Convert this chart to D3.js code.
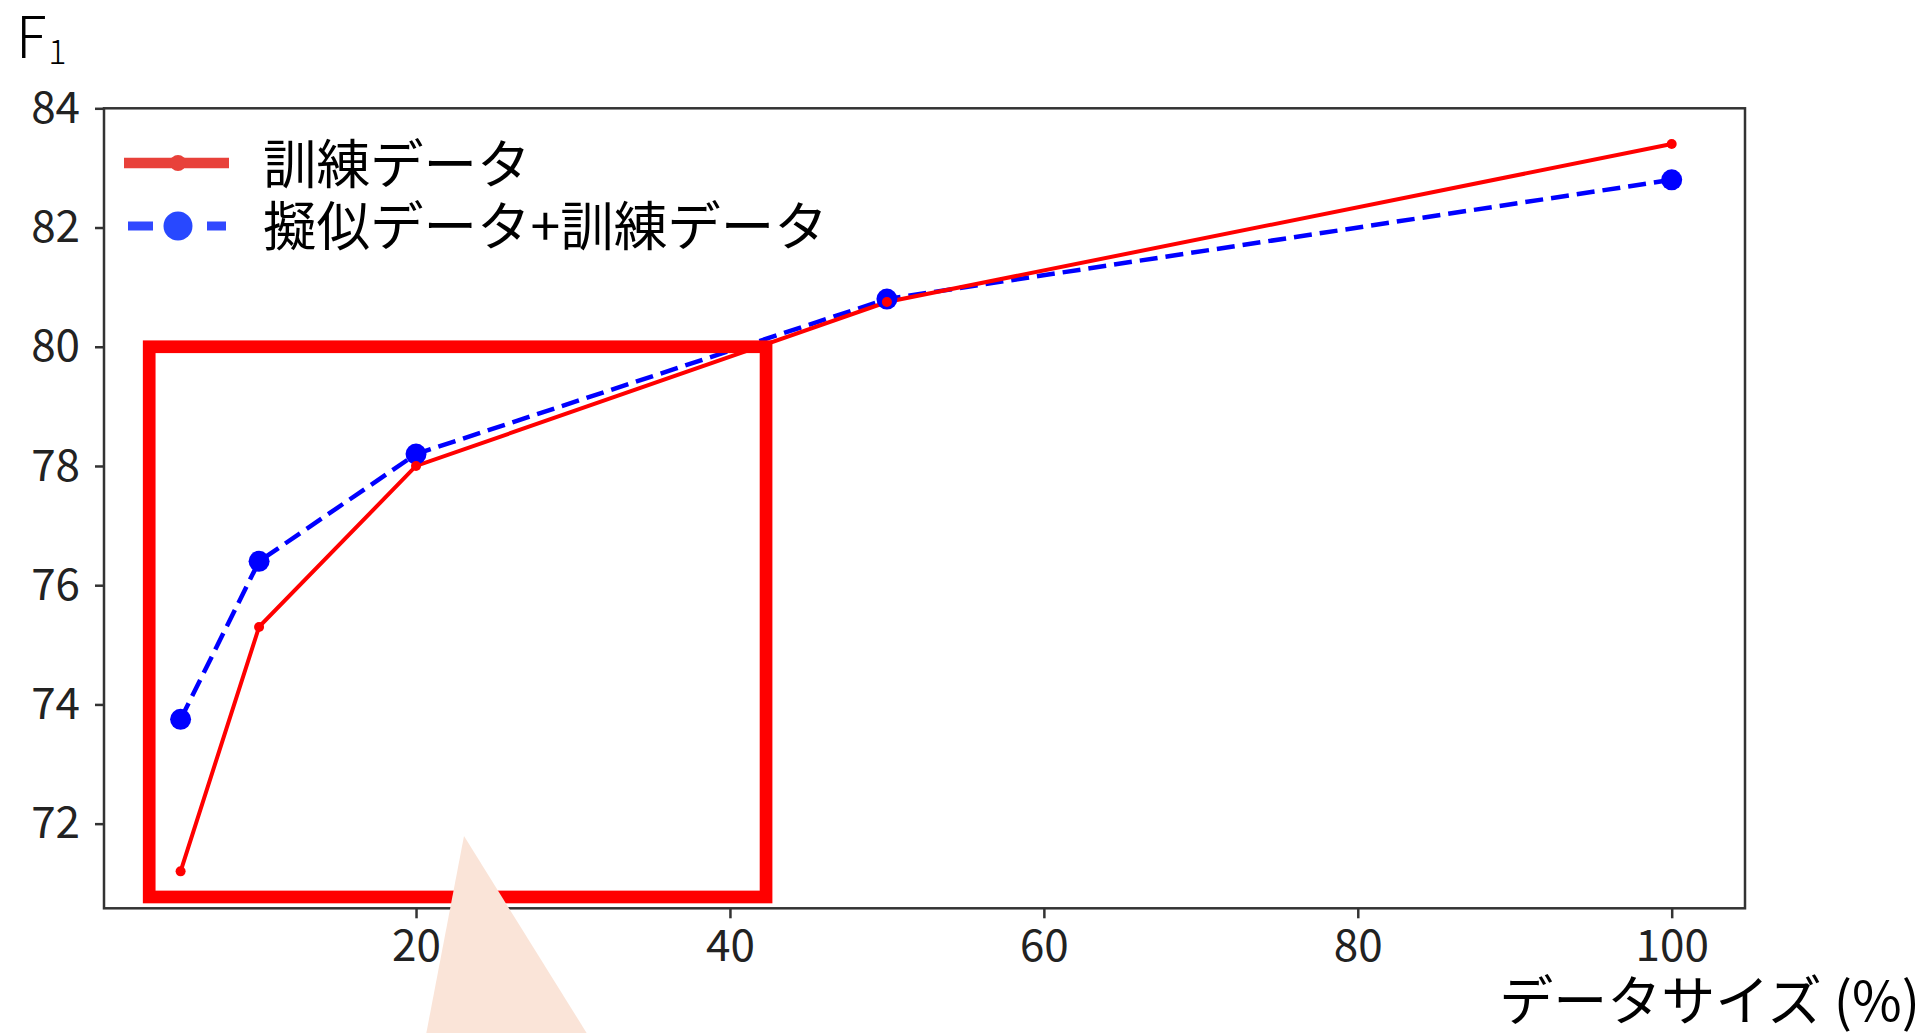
<!DOCTYPE html>
<html>
<head>
<meta charset="utf-8">
<script src="https://cdn.jsdelivr.net/npm/d3@7"></script>
<style>
  body { margin: 0; background: #fff; }
  svg { display: block; font-family: "Noto Sans CJK JP", "Noto Sans", sans-serif; }
  .axis path, .axis line { stroke: #333; stroke-width: 2.5; }
  .axis text { font-size: 44px; fill: #222; font-family: "Noto Sans CJK JP", sans-serif; }
</style>
</head>
<body>
<svg class="chart"></svg>
<script>
// data
var sizes = [5, 10, 20, 50, 100];
var trainOnly = [71.2, 75.3, 78.0, 80.75, 83.4];
var pseudoPlusTrain = [73.75, 76.4, 78.2, 80.8, 82.8];
var seriesNames = ["訓練データ", "擬似データ+訓練データ"];
var xTicks = [20, 40, 60, 80, 100];
var yTicks = [72, 74, 76, 78, 80, 82, 84];

var width = 1926, height = 1033;

var chart = d3.select(".chart")
    .attr("width", width)
    .attr("height", height);

var xScale = d3.scaleLinear()
    .domain([0.12, 104.67])
    .range([104, 1745]);

var yScale = d3.scaleLinear()
    .domain([70.58, 84.0])
    .range([908.3, 108.3]);

// frame (matplotlib style spines)
chart.append("rect")
    .attr("x", xScale.range()[0])
    .attr("y", yScale.range()[1])
    .attr("width", xScale.range()[1] - xScale.range()[0])
    .attr("height", yScale.range()[0] - yScale.range()[1])
    .attr("fill", "none")
    .attr("stroke", "#333")
    .attr("stroke-width", 2.5);

chart.append("g")
    .attr("class", "axis x")
    .attr("transform", "translate(0," + yScale.range()[0] + ")")
    .call(d3.axisBottom(xScale).tickValues(xTicks).tickSize(10).tickPadding(11).tickSizeOuter(0))
    .call(function(g) { g.select(".domain").remove(); });

chart.append("g")
    .attr("class", "axis y")
    .attr("transform", "translate(" + xScale.range()[0] + ",0)")
    .call(d3.axisLeft(yScale).tickValues(yTicks).tickSize(9).tickPadding(15).tickSizeOuter(0))
    .call(function(g) { g.select(".domain").remove(); });

var line = d3.line()
    .x(function(d) { return xScale(d[0]); })
    .y(function(d) { return yScale(d[1]); });

var redPts = sizes.map(function(s, i) { return [s, trainOnly[i]]; });
var bluePts = sizes.map(function(s, i) { return [s, pseudoPlusTrain[i]]; });

chart.append("path")
    .datum(bluePts)
    .attr("d", line)
    .attr("fill", "none")
    .attr("stroke", "#0000ff")
    .attr("stroke-width", 4.5)
    .attr("stroke-dasharray", "18,8");

chart.append("path")
    .datum(redPts)
    .attr("d", line)
    .attr("fill", "none")
    .attr("stroke", "#ff0000")
    .attr("stroke-width", 4);

chart.selectAll(".pt-blue")
    .data(bluePts)
  .enter().append("circle")
    .attr("class", "pt-blue")
    .attr("cx", function(d) { return xScale(d[0]); })
    .attr("cy", function(d) { return yScale(d[1]); })
    .attr("r", 10.5)
    .attr("fill", "#0000ff");

chart.selectAll(".pt-red")
    .data(redPts)
  .enter().append("circle")
    .attr("class", "pt-red")
    .attr("cx", function(d) { return xScale(d[0]); })
    .attr("cy", function(d) { return yScale(d[1]); })
    .attr("r", 5)
    .attr("fill", "#ff0000");

// legend
var legend = chart.append("g");
legend.append("line")
    .attr("x1", 124).attr("x2", 229).attr("y1", 163).attr("y2", 163)
    .attr("stroke", "#e8413a").attr("stroke-width", 10.5);
legend.append("circle")
    .attr("cx", 178).attr("cy", 163).attr("r", 8).attr("fill", "#e8413a");
legend.append("line")
    .attr("x1", 128).attr("x2", 226).attr("y1", 226).attr("y2", 226)
    .attr("stroke", "#3048ff").attr("stroke-width", 9)
    .attr("stroke-dasharray", "25,54");
legend.append("circle")
    .attr("cx", 178).attr("cy", 226).attr("r", 14.5).attr("fill", "#2848ff");
legend.selectAll("text")
    .data(seriesNames)
  .enter().append("text")
    .attr("x", 263)
    .attr("y", function(d, i) { return 184 + i * 62; })
    .attr("font-size", 53.5)
    .attr("fill", "#000")
    .text(function(d) { return d; });

// y label F1
var fl = chart.append("text")
    .attr("x", 16)
    .attr("y", 58)
    .attr("font-size", 57)
    .attr("font-weight", 300)
    .attr("fill", "#000");
fl.append("tspan").text("F");
fl.append("tspan").attr("font-size", 34).attr("dy", 6).attr("dx", 2).text("1");

// x label
chart.append("text")
    .attr("x", 1920)
    .attr("y", 1021)
    .attr("text-anchor", "end")
    .attr("font-size", 54)
    .attr("fill", "#000")
    .text("データサイズ (%)");

// red highlight box around small data sizes
chart.append("rect")
    .attr("x", xScale(3.0))
    .attr("y", yScale(80.0))
    .attr("width", xScale(42.3) - xScale(3.0))
    .attr("height", yScale(70.77) - yScale(80.0))
    .attr("fill", "none")
    .attr("stroke", "#ff0000")
    .attr("stroke-width", 12.7);

// callout pointer
chart.append("path")
    .attr("d", "M464,836 L425,1040 L591,1040 Z")
    .attr("fill", "#fae4d8");
</script>
</body>
</html>
